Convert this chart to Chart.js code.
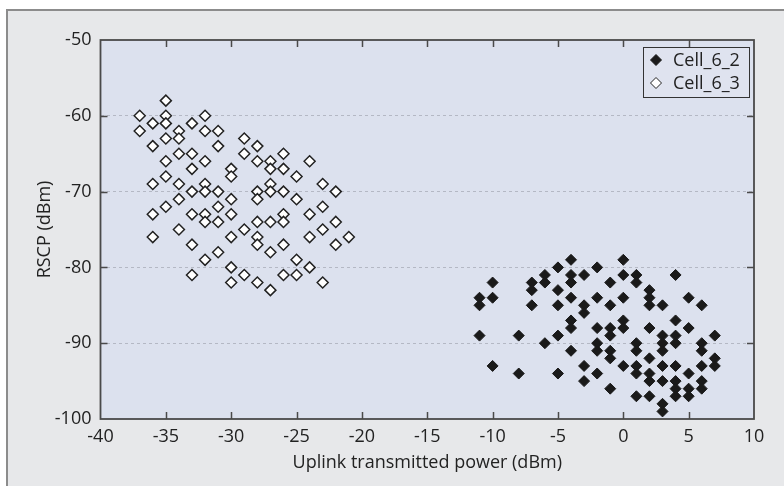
<!DOCTYPE html>
<html>
<head>
<meta charset="utf-8">
<title>RSCP vs uplink transmitted power</title>
<script src="https://cdn.jsdelivr.net/npm/chart.js@4.4.0/dist/chart.umd.min.js"></script>
<style>
    html, body { margin: 0; padding: 0; background: #ffffff; overflow: hidden; }
    #panel {
        position: absolute; left: 6px; top: 9px; right: 0; bottom: 0;
        background: #e7e8ea;
        border-top: 2px solid #8c8c8c;
        border-left: 2px solid #8c8c8c;
    }
    #wrap { position: absolute; left: 0; top: 0; width: 784px; height: 486px; }
</style>
</head>
<body>
<div id="panel"></div>
<div id="wrap"><canvas id="myChart" width="784" height="486"></canvas></div>
<script>
// Cell_6_2 (filled diamonds)
const cell62X = [
    -11, -11, -11,
    -10, -10, -10,
    -8, -8,
    -7, -7, -7,
    -6, -6, -6,
    -5, -5, -5, -5, -5,
    -4, -4, -4, -4, -4, -4, -4,
    -3, -3, -3, -3, -3,
    -2, -2, -2, -2, -2, -2,
    -1, -1, -1, -1, -1, -1, -1,
    0, 0, 0, 0, 0, 0,
    1, 1, 1, 1, 1, 1, 1,
    2, 2, 2, 2, 2, 2, 2, 2,
    3, 3, 3, 3, 3, 3, 3, 3,
    4, 4, 4, 4, 4, 4, 4, 4,
    5, 5, 5, 5, 5,
    6, 6, 6, 6, 6, 6,
    7, 7, 7
];
const cell62Y = [
    -84, -85, -89,
    -82, -84, -93,
    -89, -94,
    -82, -83, -85,
    -81, -82, -90,
    -80, -83, -85, -89, -94,
    -79, -81, -82, -84, -87, -88, -91,
    -81, -85, -86, -93, -95,
    -80, -84, -88, -90, -91, -94,
    -82, -85, -88, -89, -91, -92, -96,
    -79, -81, -84, -87, -88, -93,
    -81, -82, -90, -91, -93, -94, -97,
    -83, -84, -85, -88, -92, -94, -95, -97,
    -85, -89, -90, -91, -93, -95, -98, -99,
    -81, -87, -89, -90, -93, -95, -96, -97,
    -84, -88, -94, -96, -97,
    -85, -90, -91, -93, -95, -96,
    -89, -92, -93
];

// Cell_6_3 (open diamonds)
const cell63X = [
    -37, -37,
    -36, -36, -36, -36, -36,
    -35, -35, -35, -35, -35, -35, -35,
    -34, -34, -34, -34, -34, -34,
    -33, -33, -33, -33, -33, -33, -33,
    -32, -32, -32, -32, -32, -32, -32, -32,
    -31, -31, -31, -31, -31, -31,
    -30, -30, -30, -30, -30, -30, -30,
    -29, -29, -29, -29,
    -28, -28, -28, -28, -28, -28, -28, -28,
    -27, -27, -27, -27, -27, -27, -27,
    -26, -26, -26, -26, -26, -26, -26,
    -25, -25, -25, -25,
    -24, -24, -24, -24,
    -23, -23, -23, -23,
    -22, -22, -22,
    -21
];
const cell63Y = [
    -60, -62,
    -61, -64, -69, -73, -76,
    -58, -60, -61, -63, -66, -68, -72,
    -62, -63, -65, -69, -71, -75,
    -61, -65, -67, -70, -73, -77, -81,
    -60, -62, -66, -69, -70, -73, -74, -79,
    -62, -64, -70, -72, -74, -78,
    -67, -68, -71, -73, -76, -80, -82,
    -63, -65, -75, -81,
    -64, -66, -70, -71, -74, -76, -77, -82,
    -66, -67, -69, -70, -74, -78, -83,
    -65, -67, -70, -73, -74, -77, -81,
    -68, -71, -79, -81,
    -66, -73, -76, -80,
    -69, -72, -75, -82,
    -70, -74, -77,
    -76
];

const xTicks = [-40, -35, -30, -25, -20, -15, -10, -5, 0, 5, 10];
const yTicks = [-100, -90, -80, -70, -60, -50];

function toPoints(xs, ys) {
    return xs.map((x, i) => ({ x: x, y: ys[i] }));
}

const textColor = '#222222';
const plotBg = '#dce1ee';

// fill the plot area before the grid is drawn
const plotBackground = {
    id: 'plotBackground',
    beforeDraw(chart) {
        const { ctx, chartArea } = chart;
        ctx.save();
        ctx.fillStyle = plotBg;
        ctx.fillRect(chartArea.left, chartArea.top, chartArea.width, chartArea.height);
        ctx.restore();
    }
};

// box round the plot with tick marks pointing inwards
const frameTicks = {
    id: 'frameTicks',
    afterDatasetsDraw(chart) {
        const { ctx, chartArea } = chart;
        const xs = chart.scales.x;
        const ys = chart.scales.y;
        const len = 7;
        ctx.save();
        ctx.strokeStyle = '#4a4a4a';
        ctx.lineWidth = 1.5;
        ctx.beginPath();
        xTicks.slice(1, -1).forEach(v => {
            const px = Math.round(xs.getPixelForValue(v)) + 0.5;
            ctx.moveTo(px, chartArea.bottom);
            ctx.lineTo(px, chartArea.bottom - len);
            ctx.moveTo(px, chartArea.top);
            ctx.lineTo(px, chartArea.top + len);
        });
        yTicks.slice(1, -1).forEach(v => {
            const py = Math.round(ys.getPixelForValue(v)) + 0.5;
            ctx.moveTo(chartArea.left, py);
            ctx.lineTo(chartArea.left + len, py);
            ctx.moveTo(chartArea.right, py);
            ctx.lineTo(chartArea.right - len, py);
        });
        ctx.stroke();
        ctx.lineWidth = 1.8;
        ctx.strokeRect(chartArea.left, chartArea.top, chartArea.width, chartArea.height);
        ctx.restore();
    }
};

// boxed legend in the top right corner of the plot
const boxLegend = {
    id: 'boxLegend',
    afterDraw(chart) {
        const { ctx, chartArea } = chart;
        const w = 106, h = 50;
        const left = chartArea.right - w - 5;
        const top = chartArea.top + 7;
        ctx.save();
        ctx.fillStyle = '#dfe3ef';
        ctx.fillRect(left, top, w, h);
        ctx.strokeStyle = '#333333';
        ctx.lineWidth = 1;
        ctx.strokeRect(left + 0.5, top + 0.5, w, h);
        ctx.font = "18px 'Open Sans', sans-serif";
        ctx.textBaseline = 'middle';
        chart.data.datasets.forEach((ds, i) => {
            const cy = top + 13 + i * 23;
            ctx.fillStyle = ds.backgroundColor;
            ctx.strokeStyle = ds.borderColor;
            Chart.helpers.drawPoint(ctx, {
                pointStyle: 'rectRot',
                radius: 5.5,
                rotation: 0,
                borderWidth: ds.borderWidth
            }, left + 13, cy);
            ctx.fillStyle = textColor;
            ctx.fillText(ds.label, left + 30, cy + 1);
        });
        ctx.restore();
    }
};

Chart.defaults.font.family = "'Open Sans', sans-serif";
Chart.defaults.font.size = 18;
Chart.defaults.color = textColor;

const ctx = document.getElementById('myChart').getContext('2d');
const chart = new Chart(ctx, {
    type: 'scatter',
    data: {
        datasets: [{
            label: 'Cell_6_2',
            data: toPoints(cell62X, cell62Y),
            pointStyle: 'rectRot',
            pointRadius: 5.5,
            backgroundColor: '#1a1a1a',
            borderColor: '#1a1a1a',
            borderWidth: 1
        }, {
            label: 'Cell_6_3',
            data: toPoints(cell63X, cell63Y),
            pointStyle: 'rectRot',
            pointRadius: 5.5,
            backgroundColor: '#ffffff',
            borderColor: '#222222',
            borderWidth: 1.5
        }]
    },
    options: {
        responsive: false,
        animation: false,
        devicePixelRatio: 1,
        layout: {
            padding: { top: 40, right: 30, bottom: 0, left: 0 }
        },
        plugins: {
            legend: { display: false },
            tooltip: { enabled: false }
        },
        scales: {
            x: {
                type: 'linear',
                min: -40,
                max: 10,
                afterBuildTicks: scale => {
                    scale.ticks = xTicks.map(v => ({ value: v }));
                },
                afterFit: scale => { scale.height = 67; },
                ticks: { padding: 7, color: textColor },
                grid: { display: false, drawTicks: false },
                border: { display: false },
                title: {
                    display: true,
                    text: 'Uplink transmitted power (dBm)',
                    color: textColor,
                    padding: { top: 0, bottom: 12 }
                }
            },
            y: {
                type: 'linear',
                min: -100,
                max: -50,
                afterBuildTicks: scale => {
                    scale.ticks = yTicks.map(v => ({ value: v }));
                },
                afterFit: scale => { scale.width = 100.5; },
                ticks: { padding: 9, color: textColor },
                grid: {
                    drawTicks: false,
                    lineWidth: 1,
                    color: c => (c.tick && (c.tick.value === -100 || c.tick.value === -50)) ? 'rgba(0,0,0,0)' : '#b4b8c4'
                },
                border: { display: false, dash: [3, 3] },
                title: {
                    display: true,
                    text: 'RSCP (dBm)',
                    color: textColor,
                    padding: { top: 34, bottom: 0 }
                }
            }
        }
    },
    plugins: [plotBackground, frameTicks, boxLegend]
});
</script>
</body>
</html>
